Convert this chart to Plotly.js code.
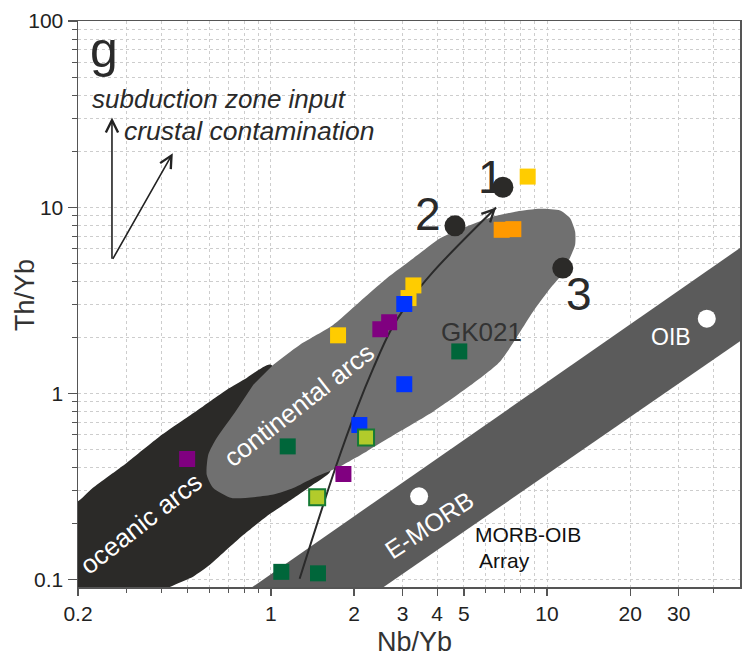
<!DOCTYPE html>
<html>
<head>
<meta charset="utf-8">
<script src="https://cdn.plot.ly/plotly-3.0.1.min.js"></script>
<style>html,body{margin:0;padding:0;background:#fff;}#chart{width:751px;height:658px;}</style>
</head>
<body>
<div id="chart"></div>
<script>
// ---- Field outlines (Nb/Yb, Th/Yb) ----
const morbArrayX = [0.80, 55, 55, 2.39];
const morbArrayY = [0.085, 6.66, 2.10, 0.085];

const oceanicX = [0.19, 0.2, 0.226, 0.300, 0.396, 0.524, 0.692, 0.817, 0.993, 1.51, 1.64, 1.42, 1.21, 0.966, 0.795, 0.692, 0.601, 0.524, 0.425, 0.396, 0.19];
const oceanicY = [0.263, 0.263, 0.310, 0.423, 0.588, 0.784, 1.047, 1.21, 1.43, 0.707, 0.381, 0.324, 0.274, 0.219, 0.174, 0.145, 0.120, 0.104, 0.0902, 0.08, 0.08];

const continentalX = [1.020, 1.274, 1.683, 2.102, 2.628, 3.281, 4.100, 5.121, 6.394, 7.775, 9.438, 11.15, 12.12, 12.64, 12.64, 12.12, 11.15, 10.26, 8.905, 6.761, 5.121, 3.876, 2.936, 2.223, 1.731, 1.424, 1.205, 1.020, 0.721, 0.618, 0.585, 0.593, 0.636, 0.731, 0.863];
const continentalY = [1.426, 1.826, 2.338, 3.118, 4.157, 5.325, 6.818, 7.878, 8.916, 9.483, 9.804, 9.60, 8.73, 7.41, 6.285, 5.37, 4.246, 3.661, 2.755, 1.485, 1.068, 0.800, 0.625, 0.488, 0.397, 0.351, 0.310, 0.286, 0.274, 0.310, 0.366, 0.469, 0.575, 0.769, 1.113];

// ---- Trend curve ----
const trendX = [1.27, 1.72, 2.05, 2.35, 2.70, 3.10, 3.88, 6.54];
const trendY = [0.101, 0.406, 0.834, 1.37, 2.15, 2.99, 4.52, 9.96];

// ---- Samples ----
const goldX = [1.75, 3.15, 3.28, 8.51];
const goldY = [2.05, 3.25, 3.80, 14.6];
const orangeX = [6.85, 7.55];
const orangeY = [7.56, 7.62];
const blueX = [3.04, 3.04, 2.09];
const blueY = [3.02, 1.12, 0.676];
const purpleX = [2.68, 2.49, 1.83, 0.497];
const purpleY = [2.41, 2.21, 0.369, 0.444];
const greenX = [4.81, 1.15, 1.09, 1.48];
const greenY = [1.68, 0.519, 0.110, 0.108];
const limeX = [2.21, 1.47];
const limeY = [0.580, 0.277];

const endMemberX = [6.92, 4.64, 11.4];
const endMemberY = [12.8, 7.94, 4.71];
const endMemberLabels = ['1', '2', '3'];

const referenceX = [3.44, 37.9];   // E-MORB, OIB
const referenceY = [0.280, 2.52];

// ---- Vector arrows (start -> end) ----
const vectorStart = [0.2655, 5.18];
const vectorEndsX = [0.2655, 0.441];
const vectorEndsY = [30.3, 19.5];

// ---- Ticks ----
const xMajor = [0.2, 1, 2, 3, 4, 5, 10, 20, 30];
const xMajorText = ['0.2', '1', '2', '3', '4', '5', '10', '20', '30'];
const xMinor = [0.3, 0.4, 0.5, 0.6, 0.7, 0.8, 0.9, 6, 7, 8, 9, 40];
const yMajor = [0.1, 1, 10, 100];
const yMajorText = ['0.1', '1', '10', '100'];
const yMinor = [0.2, 0.3, 0.4, 0.5, 0.6, 0.7, 0.8, 0.9, 2, 3, 4, 5, 6, 7, 8, 9, 20, 30, 40, 50, 60, 70, 80, 90];

const FONT = 'Liberation Sans, Arial, Helvetica, sans-serif';
const L = Math.log10;

const sq = (x, y, color, line) => ({
  type: 'scatter', mode: 'markers', x: x, y: y, hoverinfo: 'skip', showlegend: false,
  marker: {symbol: 'square', size: 16, color: color, line: line || {width: 0}}
});

const traces = [
  {type: 'scatter', mode: 'lines', x: morbArrayX, y: morbArrayY, fill: 'toself', fillcolor: '#5b5b5b',
   line: {width: 0, color: '#5b5b5b'}, hoverinfo: 'skip', showlegend: false},
  {type: 'scatter', mode: 'lines', x: oceanicX, y: oceanicY, fill: 'toself', fillcolor: '#2b2a28',
   line: {width: 0, color: '#2b2a28', shape: 'spline', smoothing: 0.5}, hoverinfo: 'skip', showlegend: false},
  {type: 'scatter', mode: 'lines', x: continentalX, y: continentalY, fill: 'toself', fillcolor: '#707070',
   line: {width: 0, color: '#707070', shape: 'spline', smoothing: 0.6}, hoverinfo: 'skip', showlegend: false},
  {type: 'scatter', mode: 'lines', x: trendX, y: trendY,
   line: {width: 2, color: '#2a2a2a', shape: 'spline', smoothing: 1}, hoverinfo: 'skip', showlegend: false},
  sq(goldX, goldY, '#ffcc00'),
  sq(orangeX, orangeY, '#ff9900'),
  sq(blueX, blueY, '#0033ff'),
  sq(purpleX, purpleY, '#800080'),
  sq(greenX, greenY, '#00663a'),
  sq(limeX, limeY, '#b2cb2b', {width: 2, color: '#167a35'}),
  {type: 'scatter', mode: 'markers', x: endMemberX, y: endMemberY, hoverinfo: 'skip', showlegend: false,
   marker: {symbol: 'circle', size: 21, color: '#2b2a28'}},
  {type: 'scatter', mode: 'markers', x: referenceX, y: referenceY, hoverinfo: 'skip', showlegend: false,
   marker: {symbol: 'circle', size: 18, color: '#ffffff'}}
];

const txt = (text, x, y, size, opts) => Object.assign({
  text: text, xref: 'paper', yref: 'paper', x: x, y: y, showarrow: false,
  xanchor: 'center', yanchor: 'middle', font: {family: FONT, size: size, color: '#2a2a2a'}
}, opts || {});

// arrowhead near end of trend curve
const n = trendX.length;
const tipX = trendX[n - 1], tipY = trendY[n - 1];
const backX = L(tipX) - 0.2 * (L(tipX) - L(trendX[n - 2]));
const backY = L(tipY) - 0.2 * (L(tipY) - L(trendY[n - 2]));

const annotations = [
  txt('g', 0.0151, 0.949, 50, {xanchor: 'left'}),
  txt('<i>subduction zone input</i>', 0.0187, 0.862, 26, {xanchor: 'left'}),
  txt('<i>crustal contamination</i>', 0.066, 0.806, 26.5, {xanchor: 'left'}),
  txt(endMemberLabels[0], 0.6243, 0.7244, 46),
  txt(endMemberLabels[1], 0.5287, 0.659, 46),
  txt(endMemberLabels[2], 0.7568, 0.5177, 46),
  txt('GK021', 0.5448, 0.4505, 26, {xanchor: 'left', font: {family: FONT, size: 26, color: '#333333'}}),
  txt('OIB', 0.8958, 0.4417, 23, {font: {family: FONT, size: 23, color: '#ffffff'}}),
  txt('E-MORB', 0.5302, 0.110, 25, {textangle: -33.5, font: {family: FONT, size: 25, color: '#ffffff'}}),
  txt('MORB-OIB', 0.6798, 0.0929, 21, {font: {family: FONT, size: 21, color: '#111111'}}),
  txt('Array', 0.645, 0.0465, 21, {font: {family: FONT, size: 21, color: '#111111'}}),
  txt('oceanic arcs', 0.0959, 0.1125, 26, {textangle: -38, font: {family: FONT, size: 26, color: '#ffffff'}}),
  txt('continental arcs', 0.3338, 0.3216, 26, {textangle: -38, font: {family: FONT, size: 26, color: '#ffffff'}}),
  // axis titles
  txt('Nb/Yb', 0.5076, -0.0965, 27, {font: {family: FONT, size: 27, color: '#333333'}}),
  txt('Th/Yb', -0.080, 0.516, 27, {textangle: -90, font: {family: FONT, size: 27, color: '#333333'}}),
  // vector arrows
  {xref: 'x', yref: 'y', axref: 'x', ayref: 'y', x: L(vectorEndsX[0]), y: L(vectorEndsY[0]),
   ax: L(vectorStart[0]), ay: L(vectorStart[1]), text: '', showarrow: true,
   arrowhead: 5, arrowsize: 1.5, arrowwidth: 1.6, arrowcolor: '#222222'},
  {xref: 'x', yref: 'y', axref: 'x', ayref: 'y', x: L(vectorEndsX[1]), y: L(vectorEndsY[1]),
   ax: L(vectorStart[0]), ay: L(vectorStart[1]), text: '', showarrow: true,
   arrowhead: 5, arrowsize: 1.5, arrowwidth: 1.6, arrowcolor: '#222222'},
  {xref: 'x', yref: 'y', axref: 'x', ayref: 'y', x: L(tipX), y: L(tipY),
   ax: backX, ay: backY, text: '', showarrow: true,
   arrowhead: 5, arrowsize: 1.5, arrowwidth: 1.6, arrowcolor: '#2a2a2a'}
];

const gridCol = '#cdcdcd';
const layout = {
  width: 751, height: 658,
  margin: {l: 78, r: 11, t: 21, b: 71, pad: 0},
  paper_bgcolor: '#ffffff', plot_bgcolor: '#ffffff',
  font: {family: FONT, color: '#222222'},
  showlegend: false,
  xaxis: {
    type: 'log', range: [L(0.2), L(50)], tickmode: 'array', tickvals: xMajor, ticktext: xMajorText,
    ticks: 'outside', ticklen: 7, tickwidth: 1.2, tickcolor: '#555555',
    showline: true, linecolor: '#555555', linewidth: 1.5, mirror: true, zeroline: false,
    showgrid: true, gridcolor: gridCol, gridwidth: 1, griddash: '3px,3px',
    tickfont: {family: FONT, size: 21, color: '#222222'},
    minor: {tickmode: 'array', tickvals: xMinor, ticks: 'outside', ticklen: 4, tickwidth: 1, tickcolor: '#555555',
            showgrid: true, gridcolor: gridCol, gridwidth: 1, griddash: '3px,3px'}
  },
  yaxis: {
    type: 'log', range: [-1.04, 2], tickmode: 'array', tickvals: yMajor, ticktext: yMajorText,
    ticks: 'outside', ticklen: 9, tickwidth: 1.2, tickcolor: '#555555',
    showline: true, linecolor: '#555555', linewidth: 1.5, mirror: true, zeroline: false,
    showgrid: true, gridcolor: gridCol, gridwidth: 1, griddash: '3px,3px',
    tickfont: {family: FONT, size: 21, color: '#222222'},
    minor: {tickmode: 'array', tickvals: yMinor, ticks: 'outside', ticklen: 5, tickwidth: 1, tickcolor: '#555555',
            showgrid: true, gridcolor: gridCol, gridwidth: 1, griddash: '3px,3px'}
  },
  annotations: annotations
};

Plotly.newPlot('chart', traces, layout, {staticPlot: true, displayModeBar: false});
</script>
</body>
</html>
